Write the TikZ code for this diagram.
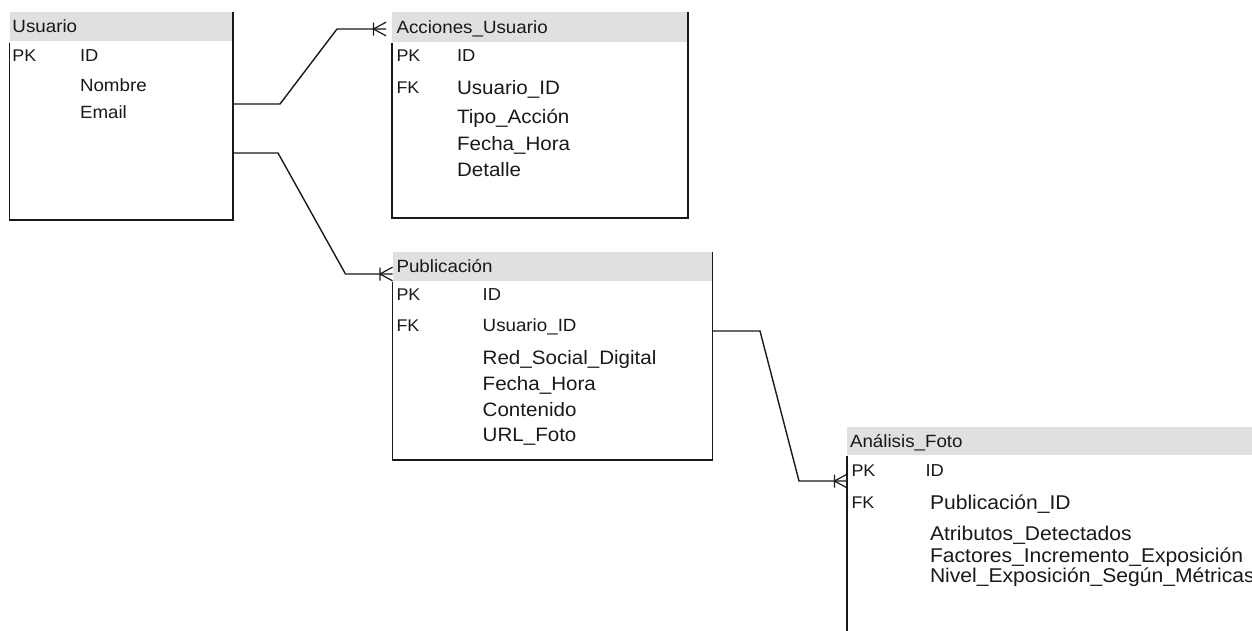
\documentclass[tikz,border=0pt]{standalone}
\usepackage{fontspec}
\setmainfont{Liberation Sans}
\usepackage{graphicx}
\usetikzlibrary{calc}

\definecolor{ink}{RGB}{25,25,25}
\definecolor{hdr}{RGB}{224,224,224}

% slightly widened sans text, as in the schema tool's rendering
\newcommand{\wtext}[1]{\scalebox{1.06}[1]{#1}}

\tikzset{
  entity/.style={draw=none, inner sep=0pt, outer sep=0pt},
  frame/.style={draw=ink, line width=1.4pt},
  link/.style={draw=ink, line width=1.4pt},
  txt/.style={anchor=base west, inner sep=0pt, outer sep=0pt, text=ink},
  title/.style={txt, font=\fontsize{17.7}{17.7}\selectfont},
  keycol/.style={txt, font=\fontsize{16.9}{16.9}\selectfont},
  smallfield/.style={txt, font=\fontsize{17.3}{17.3}\selectfont},
  field/.style={txt, font=\fontsize{19.4}{19.4}\selectfont},
  bigfield/.style={txt, font=\fontsize{19.9}{19.9}\selectfont},
  crowfoot/.pic={
    \draw[link, line width=1.2pt] (-12.5,0) -- (0,-6.8) (-12.5,0) -- (0,6.8)
      (-12.5,-6.5) -- (-12.5,6.5);
  }
}

\begin{document}
\begin{tikzpicture}[x=1pt, y=-1pt]
\useasboundingbox (0,0) rectangle (1252,630);
\clip (0,0) rectangle (1252,630);

% ---------- entity frames ----------
\node[entity, minimum width=223.5pt, minimum height=208pt] (usuario) at (121.25,116) {};
\node[entity, minimum width=296pt, minimum height=206pt] (acciones) at (540,115) {};
\node[entity, minimum width=320pt, minimum height=208pt] (publicacion) at (552.5,356) {};
\node[entity, minimum width=415pt, minimum height=213pt] (analisis) at (1054.5,533.5) {};

% header bands
\fill[hdr] (usuario.north west) rectangle ($(usuario.north east)+(0,28.5)$);
\fill[hdr] (acciones.north west) rectangle ($(acciones.north east)+(0,29.5)$);
\fill[hdr] (publicacion.north west) rectangle ($(publicacion.north east)+(0,29)$);
\fill[hdr] (analisis.north west) rectangle ($(analisis.north east)+(0,28)$);

% borders: left side starts below the header, right side runs full height
\draw[frame] ($(usuario.north west)+(0,30.5)$) |- (usuario.south east) -- (usuario.north east);
\draw[frame] ($(acciones.north west)+(0,30.5)$) |- (acciones.south east) -- (acciones.north east);
\draw[frame] ($(publicacion.north west)+(0,30)$) |- (publicacion.south east) -- (publicacion.north east);
\draw[frame] ($(analisis.north west)+(0,29)$) -- (analisis.south west);

% ---------- Usuario ----------
\node[title] (u-t) at (12.5,32) {\wtext{Usuario}};
\node[keycol] (u-pk) at (12.5,61) {\wtext{PK}};
\node[smallfield] (u-id) at (80,61) {\wtext{ID}};
\node[title] (u-nom) at (80,91) {\wtext{Nombre}};
\node[title] (u-em) at (80,118.5) {\wtext{Email}};

% ---------- Acciones_Usuario ----------
\node[title] (a-t) at (396.5,33) {\wtext{Acciones\_Usuario}};
\node[keycol] (a-pk) at (396.5,61.7) {\wtext{PK}};
\node[smallfield] (a-id) at (457,61.7) {\wtext{ID}};
\node[keycol] (a-fk) at (396.5,93.5) {\wtext{FK}};
\node[field] (a-uid) at (457,94) {\wtext{Usuario\_ID}};
\node[field] (a-tipo) at (457,123.3) {\wtext{Tipo\_Acción}};
\node[field] (a-fh) at (457,150) {\wtext{Fecha\_Hora}};
\node[field] (a-det) at (457,176) {\wtext{Detalle}};

% ---------- Publicación ----------
\node[title] (p-t) at (396.5,272.3) {\wtext{Publicación}};
\node[keycol] (p-pk) at (396.5,300.7) {\wtext{PK}};
\node[smallfield] (p-id) at (482.7,300.7) {\wtext{ID}};
\node[keycol] (p-fk) at (396.5,331.7) {\wtext{FK}};
\node[title] (p-uid) at (482.7,331.7) {\wtext{Usuario\_ID}};
\node[field] (p-red) at (482.7,364.3) {\wtext{Red\_Social\_Digital}};
\node[field] (p-fh) at (482.7,390) {\wtext{Fecha\_Hora}};
\node[field] (p-cont) at (482.7,416) {\wtext{Contenido}};
\node[field] (p-url) at (482.7,441.7) {\wtext{URL\_Foto}};

% ---------- Análisis_Foto ----------
\node[title] (f-t) at (850,447) {\wtext{Análisis\_Foto}};
\node[keycol] (f-pk) at (851.5,476.7) {\wtext{PK}};
\node[smallfield] (f-id) at (925.5,476.7) {\wtext{ID}};
\node[keycol] (f-fk) at (851.5,508.3) {\wtext{FK}};
\node[bigfield] (f-pid) at (930,509) {\wtext{Publicación\_ID}};
\node[bigfield] (f-atr) at (930,540.7) {\wtext{Atributos\_Detectados}};
\node[bigfield] (f-fac) at (930,562.7) {\wtext{Factores\_Incremento\_Exposición}};
\node[bigfield] (f-niv) at (930,582.7) {\wtext{Nivel\_Exposición\_Según\_Métricas}};

% ---------- relationships ----------
\coordinate (r1s) at ($(usuario.north east)+(0,92)$);
\coordinate (r1e) at ($(acciones.north west)+(-6,17)$);
\draw[link] (r1s) -- ++(47,0) -- ($(r1e)+(-49,0)$) -- (r1e);
\pic at (r1e) {crowfoot};

\coordinate (r2s) at ($(usuario.north east)+(0,141)$);
\coordinate (r2e) at ($(publicacion.north west)+(0,22)$);
\draw[link] (r2s) -- ++(45,0) -- ($(r2e)+(-47,0)$) -- (r2e);
\pic at (r2e) {crowfoot};

\coordinate (r3s) at ($(publicacion.north east)+(0,79)$);
\coordinate (r3e) at ($(analisis.north west)+(0,54)$);
\draw[link] (r3s) -- ++(47.5,0) -- ($(r3e)+(-48,0)$) -- (r3e);
\pic at (r3e) {crowfoot};
\end{tikzpicture}
\end{document}
